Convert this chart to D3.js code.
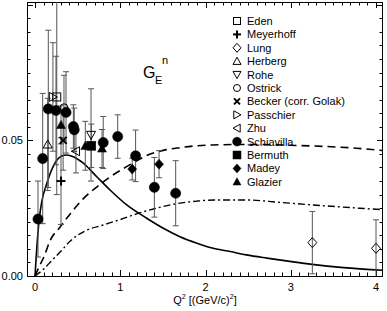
<!DOCTYPE html>
<html><head><meta charset="utf-8">
<script src="https://cdn.jsdelivr.net/npm/d3@7"></script>
<style>
body{margin:0;background:#fff;}
svg text{font-family:"Liberation Sans",Arial,Helvetica,sans-serif;fill:#000;}
</style></head>
<body><svg id="c" width="387" height="311"></svg>
<script>
// ---- data: [Q2, GEn, error] ----
const eden       = [[0.255, 0.066, 0.036]];
const meyerhoff  = [[0.305, 0.035, 0.016]];
const lung       = [[3.253, 0.0123, 0.0115], [4.0, 0.0102, 0.0105]];
const herberg    = [[0.149, 0.0485, 0.017]];
const rohe       = [[0.657, 0.052, 0.017]];
const ostrick    = [[0.34, 0.062, 0.012]];
const becker     = [[0.33, 0.050, 0.011]];
const passchier  = [[0.21, 0.066, 0.020]];
const zhu        = [[0.48, 0.046, 0.008]];
const schiavilla = [[0.035, 0.021, 0.014], [0.09, 0.0433, 0.024], [0.156, 0.0616, 0.029],
                    [0.246, 0.061, 0.020], [0.364, 0.0603, 0.015], [0.45, 0.0551, 0.008],
                    [0.46, 0.0539, 0.008], [0.80, 0.0492, 0.0096], [0.97, 0.0514, 0.008],
                    [1.18, 0.0443, 0.0095], [1.40, 0.0327, 0.011], [1.65, 0.0305, 0.012]];
const bermuth    = [[0.66, 0.048, 0.008]];
const madey      = [[1.14, 0.0394, 0.004], [1.455, 0.0412, 0.005]];
const glazier    = [[0.305, 0.0557, 0.007], [0.59, 0.048, 0.009], [0.786, 0.047, 0.007]];

// model curves [Q2, GEn]
const solidCurve = [[0,0],[0.02,0.010],[0.05,0.021],[0.08,0.0275],[0.137,0.034],[0.215,0.0405],
  [0.313,0.0442],[0.372,0.0446],[0.449,0.0440],[0.567,0.0416],[0.724,0.0366],[0.88,0.0317],
  [1.076,0.0262],[1.31,0.0213],[1.505,0.0176],[1.70,0.0145],[1.90,0.0121],[2.09,0.0102],
  [2.29,0.0090],[2.48,0.0078],[2.72,0.0066],[3.03,0.0052],[3.25,0.0043],[3.62,0.0031],[4.08,0.0021]];
const dashedCurve = [[0,0],[0.05,0.0035],[0.11,0.0075],[0.176,0.0130],[0.293,0.0180],[0.41,0.0228],
  [0.567,0.0285],[0.724,0.0328],[0.88,0.0365],[1.036,0.0396],[1.173,0.0421],[1.31,0.0444],
  [1.505,0.0463],[1.70,0.0473],[1.897,0.0480],[2.09,0.0483],[2.52,0.0485],[2.99,0.0482],
  [3.77,0.0471],[4.1,0.0462]];
const dashDotCurve = [[0,0],[0.1,0.0025],[0.2,0.0058],[0.3,0.0090],[0.41,0.0128],[0.6,0.0168],
  [0.8,0.0188],[1.0,0.0208],[1.2,0.0230],[1.4,0.0248],[1.6,0.0263],[1.9,0.0276],[2.1,0.0280],
  [2.5,0.0280],[2.85,0.0272],[3.25,0.0262],[3.8,0.0250],[4.1,0.0244]];

const xTickLabels = [0, 1, 2, 3, 4];
const yTickLabels = [0.00, 0.05];
const legendNames = ["Eden","Meyerhoff","Lung","Herberg","Rohe","Ostrick","Becker (corr. Golak)",
  "Passchier","Zhu","Schiavilla","Bermuth","Madey","Glazier"];

// ---- chart ----
const svg = d3.select("#c");
const L = 27, R = 383, T = 2, B = 276;
const x = d3.scaleLinear().domain([-0.094, 4.082]).range([L, R]);
const y = d3.scaleLinear().domain([0, 0.101]).range([B, T]);

svg.append("defs").append("clipPath").attr("id","clip")
  .append("rect").attr("x",L).attr("y",T).attr("width",R-L).attr("height",B-T);

// ticks
const ax = svg.append("g").attr("stroke","#000").attr("stroke-width",1);
const xMinor = d3.range(0, 41).map(i => i/10).filter(v => v <= 4.08);
xMinor.forEach(v => {
  const major = Math.abs(v - Math.round(v)) < 1e-9;
  const len = major ? 6 : 3.5;
  const px = Math.round(x(v)) + 0.5;
  ax.append("line").attr("x1",px).attr("x2",px).attr("y1",B).attr("y2",B-len);
  ax.append("line").attr("x1",px).attr("x2",px).attr("y1",T).attr("y2",T+len);
});
const yMinor = d3.range(0, 21).map(i => i*0.005);
yMinor.forEach(v => {
  const major = (Math.round(v*1000) % 50) === 0;
  const len = major ? 6 : 3.5;
  const py = Math.round(y(v)) + 0.5;
  ax.append("line").attr("x1",L).attr("x2",L+len).attr("y1",py).attr("y2",py);
  ax.append("line").attr("x1",R).attr("x2",R-len).attr("y1",py).attr("y2",py);
});
svg.append("rect").attr("x",L+0.5).attr("y",T+0.5).attr("width",R-L-1).attr("height",B-T)
  .attr("fill","none").attr("stroke","#000").attr("stroke-width",1);

// tick labels
svg.append("g").selectAll("text").data(xTickLabels).join("text")
  .attr("x", d => x(d)).attr("y", B + 15).attr("text-anchor","middle")
  .attr("font-size", 11).text(d => d);
svg.append("g").selectAll("text").data(yTickLabels).join("text")
  .attr("x", L - 4).attr("y", d => y(d) + 4).attr("text-anchor","end")
  .attr("font-size", 11).text(d => d.toFixed(2));

// axis title
const xt = svg.append("text").attr("x", 205).attr("y", 304).attr("text-anchor","middle").attr("font-size", 11);
xt.append("tspan").text("Q");
xt.append("tspan").attr("font-size", 7).attr("dy", -5).text("2");
xt.append("tspan").attr("dy", 5).text(" [(GeV/c)");
xt.append("tspan").attr("font-size", 7).attr("dy", -5).text("2");
xt.append("tspan").attr("dy", 5).text("]");

// G_E^n label
const gl = svg.append("g");
gl.append("text").attr("x", 143).attr("y", 78).attr("font-size", 16).text("G");
gl.append("text").attr("x", 155).attr("y", 84).attr("font-size", 11).text("E");
gl.append("text").attr("x", 162).attr("y", 64).attr("font-size", 11).text("n");

// curves
const plot = svg.append("g").attr("clip-path","url(#clip)");
const line = d3.line().x(d => x(d[0])).y(d => y(d[1])).curve(d3.curveMonotoneX);
plot.append("path").datum(solidCurve).attr("d", line).attr("fill","none").attr("stroke","#000").attr("stroke-width",1.6);
plot.append("path").datum(dashedCurve).attr("d", line).attr("fill","none").attr("stroke","#000").attr("stroke-width",1.6).attr("stroke-dasharray","8,5");
plot.append("path").datum(dashDotCurve).attr("d", line).attr("fill","none").attr("stroke","#000").attr("stroke-width",1.4).attr("stroke-dasharray","7,3,2,3");

// symbol shapes
const S = 8;
function shape(g, type, cx, cy, size) {
  const s = size || S, h = s/2;
  const open = {fill:"none", stroke:"#000", "stroke-width":1};
  const filled = {fill:"#000", stroke:"#000", "stroke-width":0.5};
  const apply = (el, st) => { for (const k in st) el.attr(k, st[k]); return el; };
  const tri = (pts) => "M" + pts.map(p => (cx+p[0]) + "," + (cy+p[1])).join("L") + "Z";
  switch (type) {
    case "sqOpen": apply(g.append("rect").attr("x",cx-h+0.5).attr("y",cy-h+0.5).attr("width",s-1).attr("height",s-1), open); break;
    case "sqFill": apply(g.append("rect").attr("x",cx-h).attr("y",cy-h).attr("width",s).attr("height",s), filled); break;
    case "plus":
      g.append("line").attr("x1",cx-h).attr("x2",cx+h).attr("y1",cy).attr("y2",cy).attr("stroke","#000").attr("stroke-width",2);
      g.append("line").attr("x1",cx).attr("x2",cx).attr("y1",cy-h).attr("y2",cy+h).attr("stroke","#000").attr("stroke-width",2); break;
    case "cross":
      g.append("line").attr("x1",cx-h+1).attr("x2",cx+h-1).attr("y1",cy-h+1).attr("y2",cy+h-1).attr("stroke","#000").attr("stroke-width",2);
      g.append("line").attr("x1",cx-h+1).attr("x2",cx+h-1).attr("y1",cy+h-1).attr("y2",cy-h+1).attr("stroke","#000").attr("stroke-width",2); break;
    case "diaOpen": apply(g.append("path").attr("d", tri([[0,-h-0.5],[h,0],[0,h+0.5],[-h,0]])), open); break;
    case "diaFill": apply(g.append("path").attr("d", tri([[0,-h-0.5],[h,0],[0,h+0.5],[-h,0]])), filled); break;
    case "triUpOpen": apply(g.append("path").attr("d", tri([[0,-h],[h,h*0.8],[-h,h*0.8]])), open); break;
    case "triUpFill": apply(g.append("path").attr("d", tri([[0,-h],[h,h*0.8],[-h,h*0.8]])), filled); break;
    case "triDownOpen": apply(g.append("path").attr("d", tri([[0,h],[h,-h*0.8],[-h,-h*0.8]])), open); break;
    case "triRightOpen": apply(g.append("path").attr("d", tri([[h,0],[-h*0.8,-h],[-h*0.8,h]])), open); break;
    case "triLeftOpen": apply(g.append("path").attr("d", tri([[-h,0],[h*0.8,-h],[h*0.8,h]])), open); break;
    case "circOpen": apply(g.append("circle").attr("cx",cx).attr("cy",cy).attr("r",h-0.5), open); break;
    case "circFill": apply(g.append("circle").attr("cx",cx).attr("cy",cy).attr("r",h+0.4), filled); break;
  }
}

const series = [
  {d: eden, t: "sqOpen"}, {d: meyerhoff, t: "plus"}, {d: lung, t: "diaOpen"},
  {d: herberg, t: "triUpOpen"}, {d: rohe, t: "triDownOpen"}, {d: ostrick, t: "circOpen"},
  {d: becker, t: "cross"}, {d: passchier, t: "triRightOpen"}, {d: zhu, t: "triLeftOpen"},
  {d: schiavilla, t: "circFill"}, {d: bermuth, t: "sqFill"}, {d: madey, t: "diaFill"},
  {d: glazier, t: "triUpFill"}
];

// error bars
const eb = plot.append("g").attr("stroke","#555").attr("stroke-width",1);
series.forEach(s => s.d.forEach(p => {
  const px = x(p[0]), y1 = y(p[1] - p[2]), y2 = y(p[1] + p[2]);
  eb.append("line").attr("x1",px).attr("x2",px).attr("y1",y1).attr("y2",y2);
  eb.append("line").attr("x1",px-3).attr("x2",px+3).attr("y1",y1).attr("y2",y1);
  eb.append("line").attr("x1",px-3).attr("x2",px+3).attr("y1",y2).attr("y2",y2);
}));
// markers
const mk = plot.append("g");
series.forEach(s => s.d.forEach(p => shape(mk, s.t, x(p[0]), y(p[1]), s.t === "circFill" ? 9.4 : 9)));

// legend
const lg = svg.append("g");
series.forEach((s, i) => {
  const cy = 21 + i * 13.4;
  shape(lg, s.t, 237, cy, 8);
  lg.append("text").attr("x", 247).attr("y", cy + 4).attr("font-size", 11).text(legendNames[i]);
});
</script></body></html>
